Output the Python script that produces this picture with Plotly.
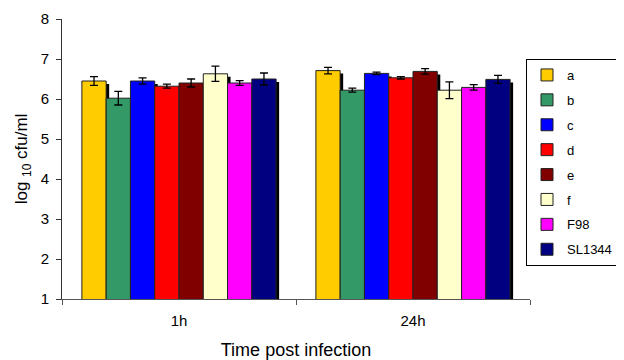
import plotly.graph_objects as go

# ---- data ----
categories = ["1h", "24h"]
strains = ["a", "b", "c", "d", "e", "f", "F98", "SL1344"]
mean_1h = [6.45, 6.02, 6.45, 6.32, 6.40, 6.63, 6.40, 6.50]
mean_24h = [6.71, 6.22, 6.64, 6.53, 6.69, 6.22, 6.29, 6.49]
err_1h = [0.11, 0.17, 0.08, 0.05, 0.10, 0.19, 0.06, 0.15]
err_24h = [0.08, 0.05, 0.03, 0.03, 0.07, 0.21, 0.07, 0.10]
colors = ["#FFCC00", "#339966", "#0000FF", "#FF0000", "#800000",
          "#FFFFCC", "#FF00FF", "#000080"]

OFF = 8                     # page body margin of the browser
W, H = 624 - OFF, 360 - OFF
ML = 62 - OFF
MT = 19 - OFF
PLOT_BOTTOM = 299 - OFF
MB = H - PLOT_BOTTOM
SH = 3                      # shadow offset in px
PW = 471                    # paper width (plot + shadow room)
PH = PLOT_BOTTOM - MT
MR = W - ML - PW
FONT = "Liberation Sans, Arial, sans-serif"

fig = go.Figure()

# shadow traces (drawn first, on hidden subplot shifted right/down)
for i, s in enumerate(strains):
    fig.add_trace(go.Bar(
        x=categories, y=[mean_1h[i], mean_24h[i]],
        marker=dict(color="black", line=dict(width=0)),
        showlegend=False, hoverinfo="skip",
        xaxis="x", yaxis="y",
    ))

# main traces
for i, s in enumerate(strains):
    fig.add_trace(go.Bar(
        name=s, legendgroup=s, x=categories, y=[mean_1h[i], mean_24h[i]],
        marker=dict(color=colors[i], line=dict(color="#222222", width=1)),
        error_y=dict(type="data", array=[err_1h[i], err_24h[i]],
                     color="black", thickness=1.3, width=4),
        xaxis="x2", yaxis="y2",
    ))

fig.update_layout(
    width=W, height=H,
    margin=dict(l=ML, r=MR, t=MT, b=MB, pad=0, autoexpand=False),
    paper_bgcolor="white", plot_bgcolor="rgba(0,0,0,0)",
    barmode="group", bargap=0.17, bargroupgap=0,
    font=dict(family=FONT, size=15, color="black"),
    showlegend=True,
    legend=dict(
        x=(526 - 62) / PW, xanchor="left", y=(299 - 59) / PH, yanchor="top",
        bordercolor="black", borderwidth=1, bgcolor="white",
        font=dict(family=FONT, size=13), tracegroupgap=5,
        itemwidth=30,
    ),
    xaxis=dict(domain=[SH / PW, 1], visible=False, type="category",
               range=[-0.5, 1.5], fixedrange=True),
    yaxis=dict(domain=[0, 1], visible=False, range=[1 + SH / 40, 8 + SH / 40]),
    xaxis2=dict(
        domain=[0, (PW - SH) / PW], anchor="y2", type="category",
        range=[-0.5, 1.5], tickson="boundaries",
        showline=True, linecolor="#555555", linewidth=1,
        ticks="outside", ticklen=5, tickcolor="#555555",
        tickfont=dict(size=15), ticklabelstandoff=8,
        showgrid=False, zeroline=False,
        title=dict(text="Time post infection", font=dict(size=18), standoff=16),
    ),
    yaxis2=dict(
        domain=[0, 1], anchor="x2", range=[1, 8], dtick=1,
        showline=True, linecolor="#333333", linewidth=1,
        ticks="outside", ticklen=5, tickcolor="#333333",
        tickfont=dict(size=15), ticklabelstandoff=4,
        showgrid=False, zeroline=False,
        title=dict(text="log <sub>10</sub> cfu/ml", font=dict(size=17), standoff=8),
    ),
)

fig.write_html("out.html")
